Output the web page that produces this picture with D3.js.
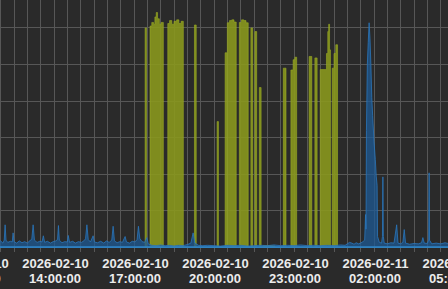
<!DOCTYPE html>
<html>
<head>
<meta charset="utf-8">
<script src="https://cdn.jsdelivr.net/npm/d3@7"></script>
<style>
  html, body { margin: 0; padding: 0; background: #2a2a2a; overflow: hidden; }
  svg { display: block; }
</style>
</head>
<body>
<div id="chart"></div>
<script>
// tick labels every 3 hours (window starts mid 11:00 label)
var tickTimes = ["11:00", "14:00", "17:00", "20:00", "23:00", "02:00", "05:00"]

// yellow series: value holds until next timestamp
var yellowSeries = [
    ["17:00", 0],
    ["17:25", 6.0], ["17:28", 0],
    ["17:36", 6.05], ["17:40", 6.15], ["17:44", 6.1], ["17:47", 6.3], ["17:50", 6.42], ["17:53", 6.25], ["17:57", 6.1], ["18:01", 6.15], ["18:06", 0],
    ["18:16", 6.12], ["18:20", 6.2], ["18:25", 6.1], ["18:30", 6.18], ["18:36", 6.22], ["18:41", 6.12], ["18:46", 6.18], ["18:51", 0],
    ["19:16", 6.08], ["19:20", 0],
    ["20:07", 3.44], ["20:10", 0],
    ["20:25", 5.32], ["20:29", 0],
    ["20:30", 6.14], ["20:35", 6.2], ["20:40", 6.22], ["20:45", 6.16], ["20:50", 0],
    ["20:57", 6.15], ["21:02", 6.22], ["21:07", 6.2], ["21:12", 6.14], ["21:17", 0],
    ["21:23", 6.0], ["21:27", 0],
    ["21:32", 5.9], ["21:36", 0],
    ["21:42", 4.37], ["21:46", 0],
    ["21:50", 0.05], ["22:17", 0],
    ["22:36", 4.9], ["22:42", 0],
    ["22:53", 4.85], ["22:58", 5.13], ["23:02", 5.2], ["23:06", 0],
    ["23:34", 5.22], ["23:40", 0],
    ["23:47", 5.18], ["23:52", 0],
    ["23:59", 4.86], ["00:13", 5.3], ["00:16", 5.9], ["00:18", 6.1], ["00:20", 5.4], ["00:22", 0],
    ["00:26", 4.9], ["00:30", 5.3], ["00:34", 5.54], ["00:38", 0],
    ["05:00", 0]
]

// blue series: sampled points
var blueSeries = [
    ["11:50", 0.14], ["12:00", 0.18], ["12:05", 0.12], ["12:08", 0.2], ["12:10", 0.62], ["12:12", 0.2], ["12:16", 0.14],
    ["12:22", 0.17], ["12:26", 0.15], ["12:28", 0.4], ["12:30", 0.16], ["12:36", 0.12], ["12:42", 0.18], ["12:48", 0.13],
    ["12:54", 0.16], ["13:00", 0.12], ["13:06", 0.19], ["13:10", 0.22], ["13:13", 0.62], ["13:16", 0.2], ["13:22", 0.14],
    ["13:28", 0.17], ["13:33", 0.15], ["13:36", 0.32], ["13:39", 0.14], ["13:45", 0.17], ["13:52", 0.12], ["13:58", 0.16],
    ["14:04", 0.18], ["14:08", 0.22], ["14:10", 0.6], ["14:12", 0.2], ["14:18", 0.13], ["14:24", 0.16], ["14:30", 0.15],
    ["14:32", 0.33], ["14:35", 0.14], ["14:42", 0.17], ["14:48", 0.12], ["14:55", 0.16], ["15:02", 0.14], ["15:08", 0.19],
    ["15:11", 0.24], ["15:14", 0.62], ["15:17", 0.22], ["15:22", 0.15], ["15:28", 0.32], ["15:31", 0.15], ["15:38", 0.13],
    ["15:45", 0.17], ["15:52", 0.12], ["15:58", 0.18], ["16:04", 0.14], ["16:10", 0.2], ["16:13", 0.58], ["16:16", 0.18],
    ["16:22", 0.13], ["16:28", 0.16], ["16:34", 0.14], ["16:40", 0.3], ["16:43", 0.15], ["16:50", 0.12], ["16:56", 0.17],
    ["17:02", 0.15], ["17:07", 0.22], ["17:10", 0.58], ["17:13", 0.25], ["17:18", 0.16], ["17:24", 0.14], ["17:29", 0.27],
    ["17:32", 0.1], ["17:40", 0.06], ["17:50", 0.05], ["18:00", 0.07], ["18:10", 0.05], ["18:20", 0.06], ["18:30", 0.04],
    ["18:40", 0.06], ["18:50", 0.05], ["19:00", 0.08], ["19:08", 0.12], ["19:13", 0.4], ["19:17", 0.12], ["19:25", 0.06],
    ["19:35", 0.05], ["19:45", 0.06], ["20:00", 0.05], ["20:15", 0.04], ["20:30", 0.06], ["20:45", 0.05], ["21:00", 0.06],
    ["21:15", 0.04], ["21:30", 0.05], ["21:45", 0.06], ["22:00", 0.05], ["22:15", 0.07], ["22:30", 0.05], ["22:45", 0.06],
    ["23:00", 0.05], ["23:15", 0.07], ["23:30", 0.05], ["23:45", 0.06], ["00:00", 0.05], ["00:15", 0.06], ["00:30", 0.05],
    ["00:45", 0.07], ["00:55", 0.06], ["01:00", 0.1], ["01:05", 0.14], ["01:10", 0.12], ["01:15", 0.09], ["01:20", 0.13],
    ["01:25", 0.1], ["01:30", 0.12], ["01:35", 0.16], ["01:39", 0.2], ["01:41", 0.9], ["01:42", 0.5], ["01:43", 3.2],
    ["01:45", 5.0], ["01:47", 5.6], ["01:49", 6.14], ["01:51", 5.7], ["01:53", 5.0], ["01:55", 4.1], ["01:57", 3.6],
    ["02:00", 2.9], ["02:03", 2.4], ["02:05", 1.95], ["02:07", 1.7], ["02:08", 0.3], ["02:12", 0.14], ["02:17", 0.12],
    ["02:19", 0.3], ["02:20", 1.93], ["02:21", 0.3], ["02:23", 0.12],
    ["02:30", 0.1], ["02:38", 0.13], ["02:45", 0.12], ["02:51", 0.62], ["02:54", 0.12], ["03:00", 0.1], ["03:05", 0.14],
    ["03:08", 0.49], ["03:11", 0.12], ["03:20", 0.09], ["03:30", 0.11], ["03:40", 0.1], ["03:47", 0.13], ["03:50", 0.27],
    ["03:53", 0.12], ["04:00", 0.11], ["04:03", 0.2], ["04:04", 2.04], ["04:05", 0.2], ["04:10", 0.1], ["04:20", 0.12],
    ["04:30", 0.1], ["04:40", 0.13], ["04:50", 0.1], ["05:00", 0.12]
]

function parseT(s) {
    // times before 11:00 belong to the next day
    var h = +s.slice(0, 2)
    var day = h < 11 ? "2026-02-11 " : "2026-02-10 "
    return d3.timeParse("%Y-%m-%d %H:%M")(day + s)
}

var width = 448, height = 289

var svg = d3.select('#chart').append('svg')
    .attr('width', width)
    .attr('height', height)

svg.append('rect')
    .attr('width', width).attr('height', height)
    .attr('fill', '#2a2a2a')

var x = d3.scaleTime()
    .domain([parseT("11:00"), parseT("05:00")])
    .range([-26, 454])

var y = d3.scaleLinear()
    .domain([0, 7])
    .range([247.5, -8.7])

// grid
var grid = svg.append('g')
    .attr('stroke', '#575757')
    .attr('stroke-width', 1)
    .attr('shape-rendering', 'crispEdges')

grid.selectAll('.vline')
    .data(d3.timeMinute.every(30).range(parseT("11:00"), parseT("05:00")))
    .enter().append('line')
    .attr('x1', function (d) { return x(d) }).attr('x2', function (d) { return x(d) })
    .attr('y1', 0).attr('y2', 252)

grid.selectAll('.hline')
    .data([0, 1, 2, 3, 4, 5, 6])
    .enter().append('line')
    .attr('x1', 0).attr('x2', width)
    .attr('y1', function (d) { return y(d) }).attr('y2', function (d) { return y(d) })

// yellow area
var yellowArea = d3.area()
    .curve(d3.curveStepAfter)
    .x(function (d) { return x(parseT(d[0])) })
    .y0(y(0))
    .y1(function (d) { return y(d[1]) })

svg.append('path')
    .datum(yellowSeries)
    .attr('d', yellowArea)
    .attr('fill', '#8b9a1d')
    .attr('fill-opacity', 0.88)
    .attr('stroke', '#9aab25')
    .attr('stroke-width', 0.6)

// blue area
var blueArea = d3.area()
    .x(function (d) { return x(parseT(d[0])) })
    .y0(y(0))
    .y1(function (d) { return y(d[1]) })

svg.append('path')
    .datum(blueSeries)
    .attr('d', blueArea)
    .attr('fill', '#1d5a94')
    .attr('fill-opacity', 0.75)
    .attr('stroke', '#2a76bb')
    .attr('stroke-width', 0.8)

svg.append('line')
    .attr('x1', 0).attr('x2', width)
    .attr('y1', y(0) - 0.5).attr('y2', y(0) - 0.5)
    .attr('stroke', '#2f86c9')
    .attr('stroke-width', 1.5)

// x labels
var labels = svg.selectAll('.lab')
    .data(tickTimes)
    .enter().append('text')
    .attr('text-anchor', 'middle')
    .attr('fill', '#ececec')
    .attr('font-family', 'Liberation Sans, Arial, sans-serif')
    .attr('font-weight', 'bold')
    .attr('font-size', '13px')

labels.append('tspan')
    .attr('x', function (d) { return x(parseT(d)) + 1.5 })
    .attr('y', 268)
    .text(function (d) { return d3.timeFormat("%Y-%m-%d")(parseT(d)) })

labels.append('tspan')
    .attr('x', function (d) { return x(parseT(d)) + 1 })
    .attr('y', 283)
    .text(function (d) { return d3.timeFormat("%H:%M:%S")(parseT(d)) })
</script>
</body>
</html>
